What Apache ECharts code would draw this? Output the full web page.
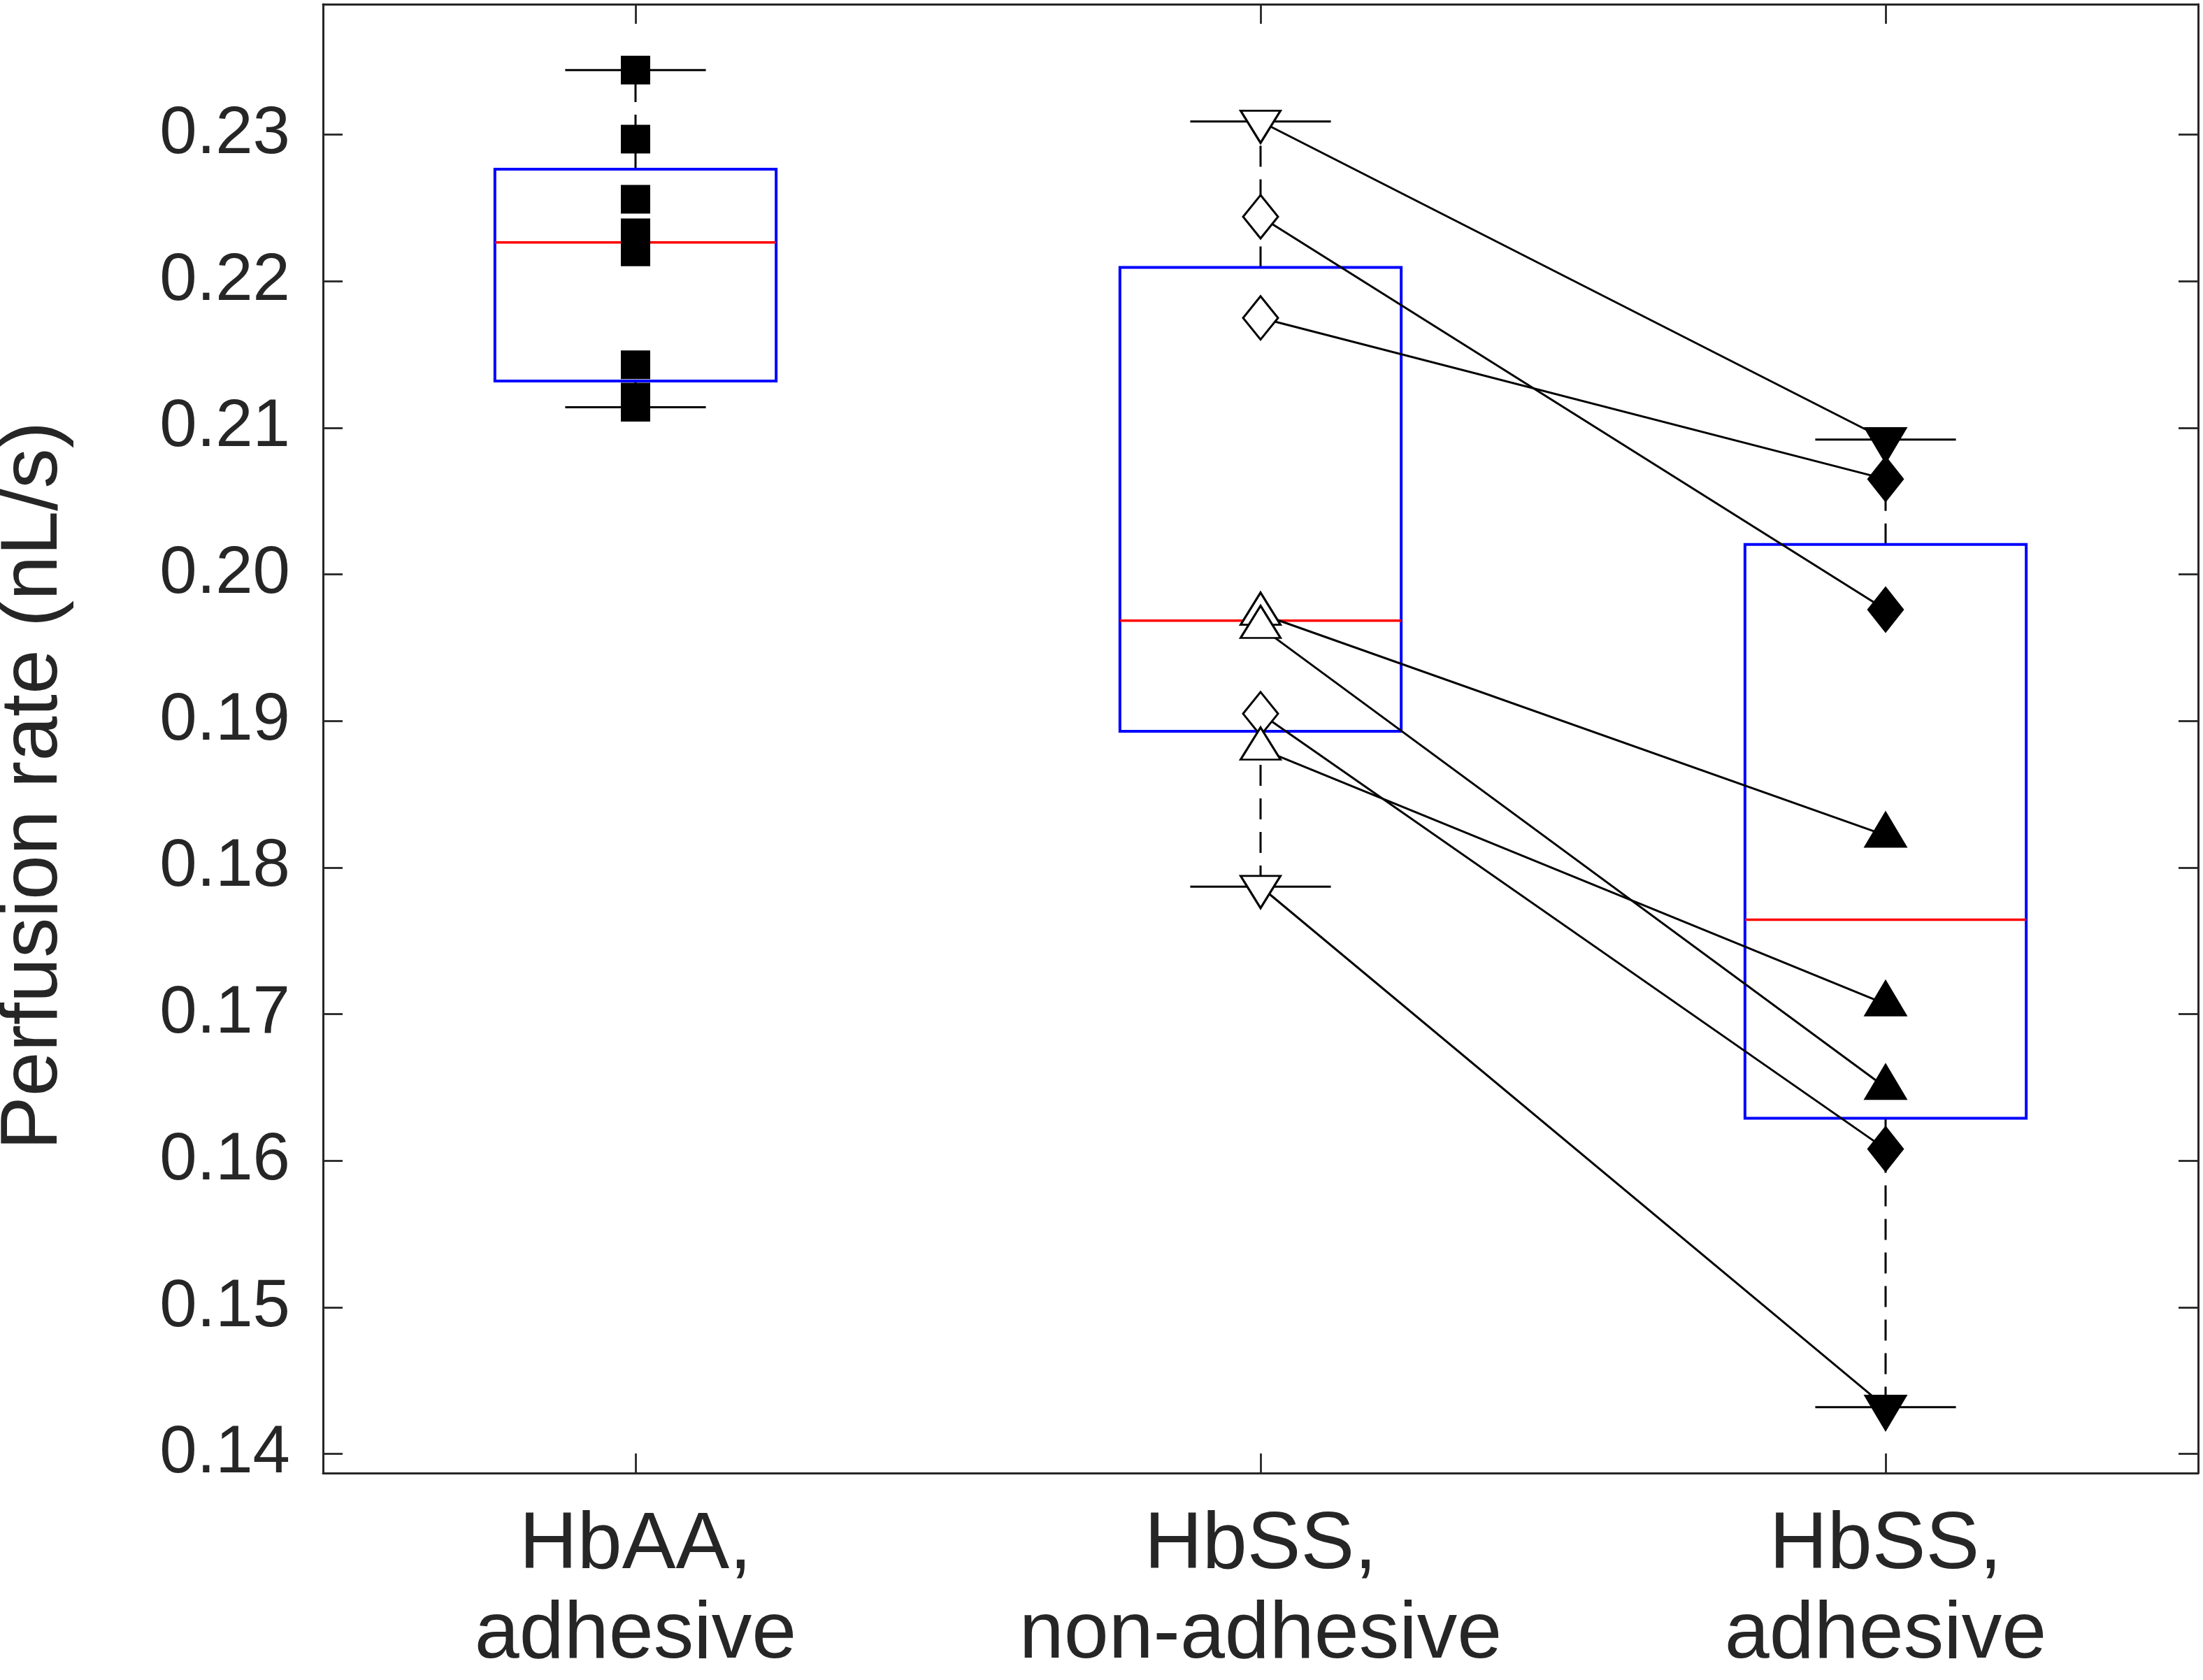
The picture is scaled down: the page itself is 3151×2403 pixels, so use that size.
<!DOCTYPE html>
<html><head><meta charset="utf-8">
<script src="https://cdn.jsdelivr.net/npm/echarts@6/dist/echarts.min.js"></script>
<style>html,body{margin:0;padding:0;background:#fff}#c{width:3151px;height:2403px}</style>
</head><body><div id="c"></div>
<script>
// ---- data ----
const categories = ['HbAA,\nadhesive', 'HbSS,\nnon-adhesive', 'HbSS,\nadhesive'];
const hbaaAdhesive = [0.2114, 0.2121, 0.2143, 0.2220, 0.2233, 0.2256, 0.2297, 0.2344];
// paired samples (same order in both arrays)
const hbssNonAdhesive = [0.2309, 0.2244, 0.2175, 0.1973, 0.1964, 0.1905, 0.1881, 0.1787];
const hbssAdhesive    = [0.2092, 0.1976, 0.2065, 0.1822, 0.1650, 0.1608, 0.1707, 0.1432];
const pairMarker = ['down', 'diamond', 'diamond', 'up', 'up', 'diamond', 'up', 'down'];
const yTicks = [0.14, 0.15, 0.16, 0.17, 0.18, 0.19, 0.20, 0.21, 0.22, 0.23];
const yRangeMin = 0.1387;
const yRangeMax = 0.2389;
const yTitle = 'Perfusion rate (nL/s)';

// ---- box statistics (MATLAB prctile convention) ----
function prctile(arr, p) {
  const s = [...arr].sort((a, b) => a - b);
  const n = s.length;
  const pos = n * p / 100 + 0.5;
  if (pos <= 1) return s[0];
  if (pos >= n) return s[n - 1];
  const i = Math.floor(pos), f = pos - i;
  return s[i - 1] + f * (s[i] - s[i - 1]);
}
function boxStats(arr) {
  const q1 = prctile(arr, 25), med = prctile(arr, 50), q3 = prctile(arr, 75);
  const iqr = q3 - q1;
  const inside = arr.filter(v => v >= q1 - 1.5 * iqr && v <= q3 + 1.5 * iqr);
  return [Math.min(...inside), q1, med, q3, Math.max(...inside)];
}
const groups = [hbaaAdhesive, hbssNonAdhesive, hbssAdhesive];
const boxData = groups.map((g, i) => [i, ...boxStats(g)]);

const FONT = "'Liberation Sans', Arial, Helvetica, sans-serif";
const TXT = '#262626';
const symbols = {
  up: 'triangle',
  down: 'path://M0,0L10,0L5,10Z',
  diamond: 'diamond'
};
const openSize = { up: [57, 46], down: [57, 46], diamond: [50, 62] };
const fillSize = { up: [63, 53], down: [63, 53], diamond: [53, 67] };
function offsetFor(shape, size) {
  if (shape === 'up') return [0, -size[1] / 6];
  if (shape === 'down') return [0, size[1] / 6];
  return [0, 0];
}

const series = [];
// boxes
series.push({
  type: 'custom',
  z: 1,
  data: boxData,
  encode: { x: 0, y: [1, 2, 3, 4, 5] },
  renderItem: function (params, api) {
    const c = api.value(0);
    const band = api.size([1, 0])[0];
    const xc = api.coord([c, api.value(3)])[0];
    const yMinP = api.coord([c, api.value(1)])[1];
    const yQ1 = api.coord([c, api.value(2)])[1];
    const yMed = api.coord([c, api.value(3)])[1];
    const yQ3 = api.coord([c, api.value(4)])[1];
    const yMaxP = api.coord([c, api.value(5)])[1];
    const hb = band * 0.225, hc = band * 0.1125;
    const dash = { stroke: '#000', lineWidth: 3, lineDash: [30, 18], fill: null };
    const solid = { stroke: '#000', lineWidth: 3, fill: null };
    return {
      type: 'group',
      children: [
        { type: 'line', shape: { x1: xc, y1: yQ3, x2: xc, y2: yMaxP }, style: dash },
        { type: 'line', shape: { x1: xc, y1: yQ1, x2: xc, y2: yMinP }, style: dash },
        { type: 'line', shape: { x1: xc - hc, y1: yMaxP, x2: xc + hc, y2: yMaxP }, style: solid },
        { type: 'line', shape: { x1: xc - hc, y1: yMinP, x2: xc + hc, y2: yMinP }, style: solid },
        { type: 'rect', shape: { x: xc - hb, y: yQ3, width: 2 * hb, height: yQ1 - yQ3 },
          style: { stroke: '#0000ff', lineWidth: 4, fill: null } },
        { type: 'line', shape: { x1: xc - hb, y1: yMed, x2: xc + hb, y2: yMed },
          style: { stroke: '#ff0000', lineWidth: 3.5, fill: null } }
      ]
    };
  }
});
// pair lines
hbssNonAdhesive.forEach((v, i) => {
  series.push({
    type: 'line', z: 2, symbol: 'none', silent: true,
    data: [[1, v], [2, hbssAdhesive[i]]],
    lineStyle: { color: '#000', width: 3 }
  });
});
// HbAA squares
series.push({
  type: 'scatter', z: 3, symbol: 'rect', symbolSize: [42, 41],
  data: hbaaAdhesive.map(v => [0, v]),
  itemStyle: { color: '#000', opacity: 1 }
});
// paired markers
['down', 'diamond', 'up'].forEach(shape => {
  const idx = pairMarker.map((m, i) => m === shape ? i : -1).filter(i => i >= 0);
  series.push({
    type: 'scatter', z: 4, symbol: symbols[shape], symbolSize: openSize[shape],
    symbolOffset: offsetFor(shape, openSize[shape]),
    data: idx.map(i => [1, hbssNonAdhesive[i]]),
    itemStyle: { color: '#ffffff', borderColor: '#000', borderWidth: 3, opacity: 1 }
  });
  series.push({
    type: 'scatter', z: 4, symbol: symbols[shape], symbolSize: fillSize[shape],
    symbolOffset: offsetFor(shape, fillSize[shape]),
    data: idx.map(i => [2, hbssAdhesive[i]]),
    itemStyle: { color: '#000', opacity: 1 }
  });
});

const axisLine = { show: true, onZero: false, lineStyle: { color: TXT, width: 3 } };
const tickStyle = { color: TXT, width: 2.8 };

const chart = echarts.init(document.getElementById('c'), null, { renderer: 'canvas' });
chart.setOption({
  animation: false,
  backgroundColor: '#fff',
  grid: { left: 462, right: 7, top: 6, bottom: 282, containLabel: false },
  xAxis: [
    { type: 'category', data: categories, position: 'bottom', boundaryGap: true,
      axisLine: axisLine,
      axisTick: { show: true, inside: true, alignWithLabel: true, length: 28, lineStyle: tickStyle },
      axisLabel: { show: true, interval: 0, margin: 40, fontSize: 115, lineHeight: 128, color: TXT, fontFamily: FONT },
      splitLine: { show: false } },
    { type: 'category', data: categories, position: 'top', boundaryGap: true,
      axisLine: axisLine,
      axisTick: { show: true, inside: true, alignWithLabel: true, length: 28, lineStyle: tickStyle },
      axisLabel: { show: false },
      splitLine: { show: false } }
  ],
  yAxis: [
    { type: 'value', min: yRangeMin, max: yRangeMax, position: 'left',
      axisLine: axisLine,
      axisTick: { show: true, inside: true, length: 28, customValues: yTicks, lineStyle: tickStyle },
      axisLabel: { show: true, customValues: yTicks, formatter: v => v.toFixed(2), margin: 47,
                   fontSize: 96, color: TXT, fontFamily: FONT },
      splitLine: { show: false } },
    { type: 'value', min: yRangeMin, max: yRangeMax, position: 'right',
      axisLine: axisLine,
      axisTick: { show: true, inside: true, length: 28, customValues: yTicks, lineStyle: tickStyle },
      axisLabel: { show: false },
      splitLine: { show: false } }
  ],
  graphic: [{
    type: 'text', x: 49, y: 1124, rotation: Math.PI / 2,
    style: { text: yTitle, fontSize: 115, fontFamily: FONT, fill: TXT, align: 'center', verticalAlign: 'middle' }
  }],
  series: series
});
</script></body></html>
